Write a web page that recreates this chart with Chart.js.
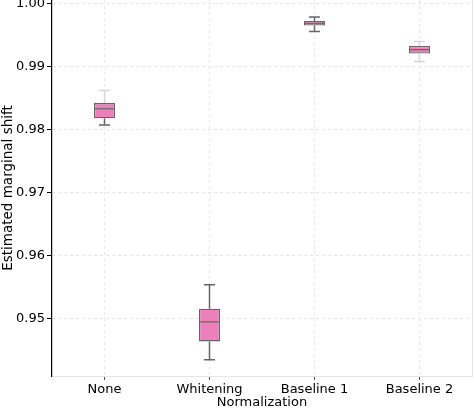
<!DOCTYPE html>
<html>
<head>
<meta charset="utf-8">
<script src="https://cdn.jsdelivr.net/npm/chart.js@4"></script>
<style>
  body { margin: 0; background: #fff; }
  #wrap { width: 474px; height: 408px; }
</style>
</head>
<body>
<div id="wrap"><canvas id="chart"></canvas></div>
<script>
const categories = ["None", "Whitening", "Baseline 1", "Baseline 2"];
const whiskerLow = [0.9807, 0.9434, 0.9956, 0.9908];
const boxLow = [0.9818, 0.9463, 0.99655, 0.9921];
const medians = [0.9833, 0.9494, 0.9969, 0.9927];
const boxHigh = [0.9842, 0.9515, 0.99725, 0.9933];
const whiskerHigh = [0.9862, 0.9553, 0.9979, 0.9940];
const yTicks = [0.95, 0.96, 0.97, 0.98, 0.99, 1.0];

// some whiskers come out faint in the original
const upperWhiskerColor = ["#d6d6d6", "#666", "#666", "#d6d6d6"];
const lowerWhiskerColor = ["#666", "#666", "#666", "#d6d6d6"];

const boxPlotLines = {
  id: "boxPlotLines",
  beforeDatasetsDraw(chart) {
    const { ctx, scales: { x, y } } = chart;
    ctx.save();
    ctx.lineWidth = 1.5;
    categories.forEach((c, i) => {
      const px = x.getPixelForValue(i);
      const segs = [
        [whiskerHigh[i], boxHigh[i], upperWhiskerColor[i]],
        [whiskerLow[i], boxLow[i], lowerWhiskerColor[i]],
      ];
      segs.forEach(([end, start, color]) => {
        ctx.strokeStyle = color;
        ctx.beginPath();
        ctx.moveTo(px, y.getPixelForValue(start));
        ctx.lineTo(px, y.getPixelForValue(end));
        ctx.moveTo(px - 5.5, y.getPixelForValue(end));
        ctx.lineTo(px + 5.5, y.getPixelForValue(end));
        ctx.stroke();
      });
    });
    ctx.restore();
  },
  afterDatasetsDraw(chart) {
    const { ctx, scales: { x, y }, chartArea } = chart;
    const meta = chart.getDatasetMeta(0);
    ctx.save();
    ctx.strokeStyle = "#666";
    ctx.lineWidth = 1.2;
    categories.forEach((c, i) => {
      const bar = meta.data[i];
      const half = bar.width / 2;
      const py = y.getPixelForValue(medians[i]);
      ctx.beginPath();
      ctx.moveTo(bar.x - half, py);
      ctx.lineTo(bar.x + half, py);
      ctx.stroke();
    });
    // light right spine
    ctx.strokeStyle = "#e6e6e6";
    ctx.lineWidth = 1;
    ctx.beginPath();
    ctx.moveTo(chartArea.right + 0.5, chartArea.top);
    ctx.lineTo(chartArea.right + 0.5, chartArea.bottom);
    ctx.stroke();
    ctx.restore();
  },
};

const font = { family: "'DejaVu Sans', sans-serif", size: 13 };

new Chart(document.getElementById("chart"), {
  type: "bar",
  data: {
    labels: categories,
    datasets: [
      {
        data: categories.map((c, i) => [boxLow[i], boxHigh[i]]),
        backgroundColor: "#ec80ba",
        borderColor: "#666",
        borderWidth: 1.3,
        borderSkipped: false,
        categoryPercentage: 1,
        barPercentage: 0.2,
      },
    ],
  },
  options: {
    responsive: true,
    maintainAspectRatio: false,
    animation: false,
    layout: { padding: { left: 0, right: 2, top: 0, bottom: 0 } },
    plugins: { legend: { display: false }, tooltip: { enabled: false } },
    scales: {
      x: {
        grid: {
          offset: false,
          color: "#e8e8e8",
          tickColor: "#555",
          tickLength: 4,
        },
        border: { color: "#e6e6e6", width: 1, dash: [3, 3] },
        ticks: { color: "#000", font, padding: 2, maxRotation: 0 },
        title: {
          display: true,
          text: "Normalization",
          color: "#000",
          font: { ...font, lineHeight: 0.8 },
          padding: { top: 0, bottom: 0 },
        },
        afterFit(scale) {
          scale.height = 32;
          scale.paddingLeft = 0;
          scale.paddingRight = 0;
        },
      },
      y: {
        min: 0.9408,
        max: 1.0006,
        afterBuildTicks(scale) {
          scale.ticks = yTicks.map((v) => ({ value: v }));
        },
        grid: {
          color: "#e2e2e2",
          tickColor: "#000",
          tickLength: 5,
        },
        border: { color: "#000", width: 1.2, dash: [3, 3] },
        ticks: {
          color: "#000",
          font,
          padding: 2,
          callback: (v) => Number(v).toFixed(2),
        },
        title: {
          display: true,
          text: "Estimated marginal shift",
          color: "#000",
          font: { ...font, size: 13.5 },
          padding: { top: 0, bottom: 0 },
        },
        afterFit(scale) {
          scale.width = 52;
          scale.paddingTop = 0;
          scale.paddingBottom = 0;
        },
      },
    },
  },
  plugins: [boxPlotLines],
});
</script>
</body>
</html>
